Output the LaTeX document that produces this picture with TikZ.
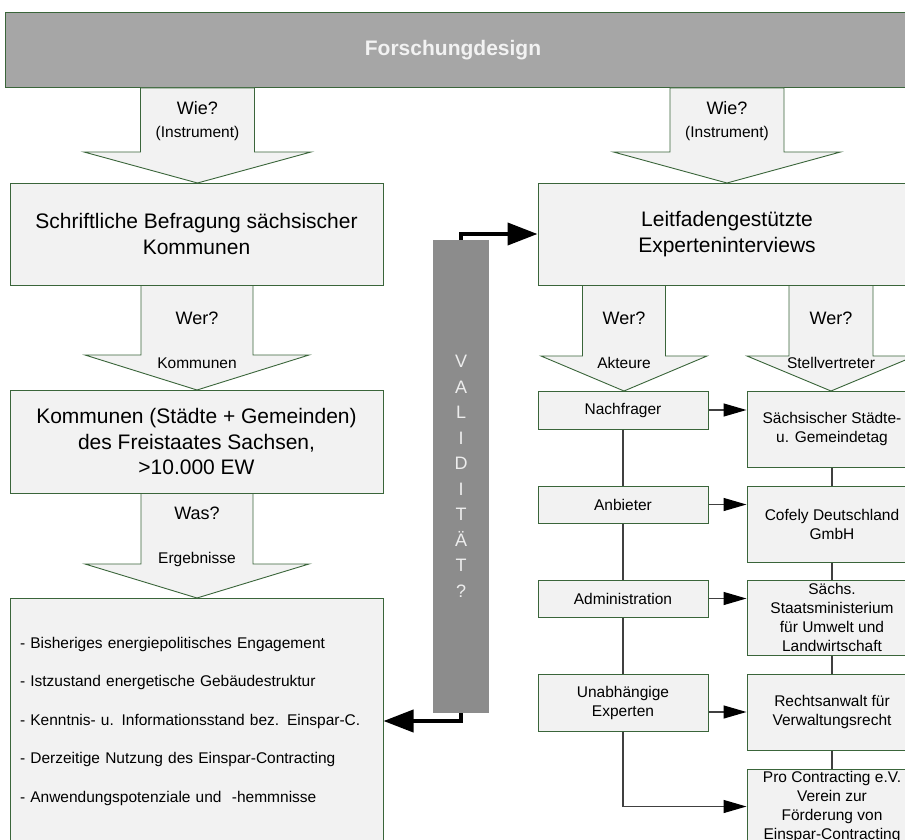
\documentclass[tikz,border=0pt]{standalone}
\usepackage{fontspec}
\setmainfont{Liberation Sans}
\usetikzlibrary{arrows.meta}

\definecolor{boxfill}{HTML}{F2F2F2}
\definecolor{boxline}{HTML}{3A653A}
\definecolor{bannerfill}{HTML}{A6A6A6}
\definecolor{barfill}{HTML}{8C8C8C}
\definecolor{barletter}{HTML}{EDEDED}
\definecolor{linkgray}{HTML}{404040}

% block arrow: centre x, top y, head base y, tip y, half shaft width, half head width
\newcommand{\BlockArrow}[6]{%
  \draw[arrowshape] (#1-#5,#2) -- (#1-#5,#3) -- (#1-#6,#3) -- (#1,#4)
    -- (#1+#6,#3) -- (#1+#5,#3) -- (#1+#5,#2) -- cycle;}

\tikzset{
  mainbox/.style={draw=boxline, fill=boxfill, line width=1pt, inner sep=0pt,
    align=center, font=\fontsize{21}{25.5}\selectfont},
  smallbox/.style={draw=boxline, fill=boxfill, line width=1pt, inner sep=0pt,
    align=center, minimum width=170pt, font=\fontsize{15.5}{19}\selectfont},
  arrowshape/.style={draw=boxline, fill=boxfill, line width=0.9pt, line join=miter},
  qlabel/.style={font=\fontsize{18}{21}\selectfont, inner sep=0pt},
  slabel/.style={font=\fontsize{15.5}{18}\selectfont, inner sep=0pt},
  link/.style={draw=linkgray, line width=1.3pt,
    -{Triangle[length=23pt,width=13pt,color=black]}},
  plainlink/.style={draw=linkgray, line width=1.3pt},
  boldarrow/.style={draw=black, line width=4pt, line join=miter,
    -{Triangle[length=30pt,width=22pt]}},
}

\begin{document}
\begin{tikzpicture}[x=1pt, y=-1pt]
\useasboundingbox (0,0) rectangle (905,840);
\clip (0,0) rectangle (905,840);
\fill[white] (0,0) rectangle (905,840);

% title banner
\draw[draw=boxline, fill=bannerfill, line width=1pt] (5,13) rectangle (930,88);
\node[font=\bfseries\fontsize{21}{25}\selectfont, text=boxfill, inner sep=0pt]
  (titel) at (453,50.5) {Forschungdesign};

% block arrows
\BlockArrow{197.5}{88}{152}{183}{57}{113.5}
\BlockArrow{727}{88}{152}{183}{57}{113.5}
\BlockArrow{197}{285}{355}{390}{56}{112}
\BlockArrow{197}{493}{564}{598}{56}{112}
\BlockArrow{624}{285}{356}{391}{41.5}{83}
\BlockArrow{831}{285}{356}{391}{42}{84}

% left column
\node[mainbox, minimum width=373pt, minimum height=102pt] (befragung) at (196.5,234)
  {Schriftliche Befragung sächsischer\\Kommunen};
\node[mainbox, minimum width=373pt, minimum height=103pt] (kommunen) at (196.5,441.5)
  {Kommunen (Städte + Gemeinden)\\des Freistaates Sachsen,\\>10.000 EW};
\node[mainbox, minimum width=373pt, minimum height=246pt, text width=353pt,
  align=left, font=\fontsize{15.5}{38.5}\selectfont] (ergebnisse) at (196.5,721)
  {- Bisheriges energiepolitisches Engagement\\
   - Istzustand energetische Gebäudestruktur\\
   - Kenntnis- u. Informationsstand bez. Einspar-C.\\
   - Derzeitige Nutzung des Einspar-Contracting\\
   - Anwendungspotenziale und~ -hemmnisse};

% right column
\node[mainbox, minimum width=378pt, minimum height=102pt] (leitfaden) at (727,234)
  {Leitfadengestützte\\Experteninterviews};

\node[smallbox, minimum height=38pt] (nachfrager) at (623,410) {Nachfrager};
\node[smallbox, minimum height=37pt] (anbieter) at (623,504.5) {Anbieter};
\node[smallbox, minimum height=37pt] (admin) at (623,598.5) {Administration};
\node[smallbox, minimum height=57pt] (unabh) at (623,702.5) {Unabhängige\\Experten};

\node[smallbox, minimum height=76pt] (staedtetag) at (832,429)
  {Sächsischer Städte-\\u. Gemeindetag};
\node[smallbox, minimum height=76pt] (cofely) at (832,524)
  {Cofely Deutschland\\GmbH};
\node[smallbox, minimum height=75pt] (smul) at (832,617.5)
  {Sächs.\\Staatsministerium\\für Umwelt und\\Landwirtschaft};
\node[smallbox, minimum height=76pt] (anwalt) at (832,712)
  {Rechtsanwalt für\\Verwaltungsrecht};
\node[smallbox, minimum height=75pt] (procon) at (832,806.5)
  {Pro Contracting e.V.\\Verein zur\\Förderung von\\Einspar-Contracting};

% arrow labels
\node[qlabel] (wie1) at (197.5,108) {Wie?};
\node[slabel] (instr1) at (197.5,133) {(Instrument)};
\node[qlabel] (wie2) at (727,108) {Wie?};
\node[slabel] (instr2) at (727,133) {(Instrument)};
\node[qlabel] (wer1) at (197,318) {Wer?};
\node[slabel] (komm) at (197,363) {Kommunen};
\node[qlabel] (was) at (197,513) {Was?};
\node[slabel] (erg) at (197,559) {Ergebnisse};
\node[qlabel] (wer2) at (624,318) {Wer?};
\node[slabel] (akteure) at (624,363) {Akteure};
\node[qlabel] (wer3) at (831,318) {Wer?};
\node[slabel] (stellv) at (831,363) {Stellvertreter};

% validity bar
\node[fill=barfill, minimum width=56pt, minimum height=473pt, inner sep=0pt,
  align=center, text=barletter, font=\fontsize{18}{25.5}\selectfont]
  (validitaet) at (461,476.5) {V\\A\\L\\I\\D\\I\\T\\Ä\\T\\?};

\draw[boldarrow] (validitaet.north) |- (leitfaden.west);
\draw[boldarrow] (validitaet.south) |- (ergebnisse.east);

% actor chain and representatives
\draw[plainlink] (nachfrager) -- (anbieter);
\draw[plainlink] (anbieter) -- (admin);
\draw[plainlink] (admin) -- (unabh);
\draw[plainlink] (staedtetag) -- (cofely);
\draw[plainlink] (cofely) -- (smul);
\draw[plainlink] (smul) -- (anwalt);
\draw[plainlink] (anwalt) -- (procon);

\draw[link] (nachfrager.east) -- (nachfrager.east -| staedtetag.west);
\draw[link] (anbieter.east) -- (anbieter.east -| cofely.west);
\draw[link] (admin.east) -- (admin.east -| smul.west);
\draw[link] (unabh.east |- anwalt.west) -- (anwalt.west);
\draw[link] (unabh.south) |- (procon.west);
\end{tikzpicture}
\end{document}
